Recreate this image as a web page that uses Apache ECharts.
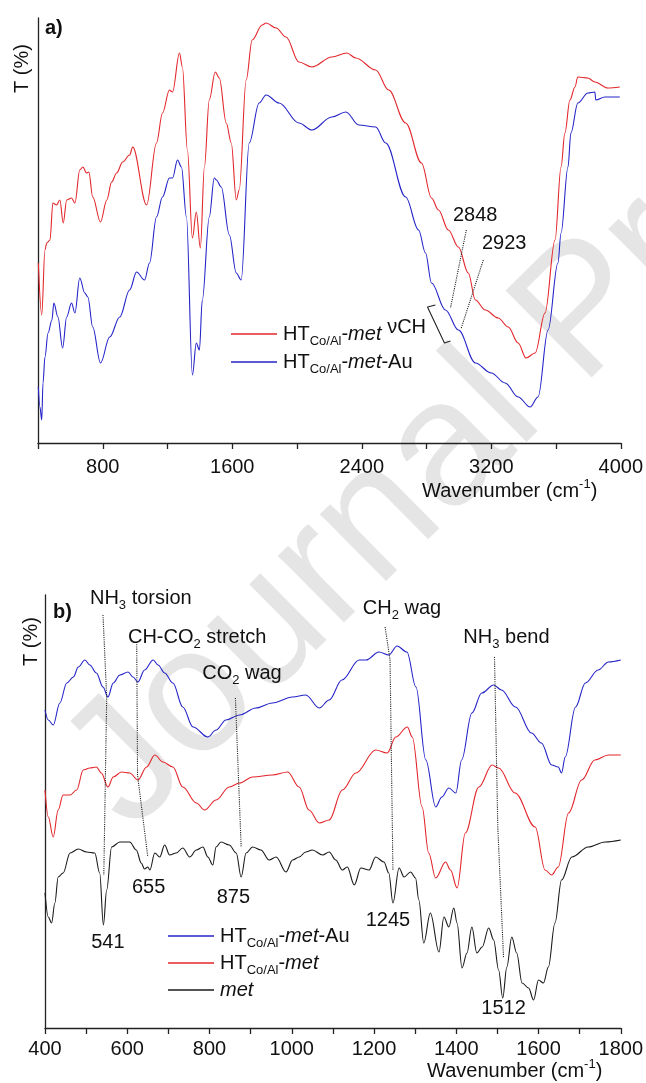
<!DOCTYPE html>
<html>
<head>
<meta charset="utf-8">
<script src="https://cdn.jsdelivr.net/npm/echarts@6/dist/echarts.min.js"></script>
<style>
html, body { margin: 0; padding: 0; background: #fff; }
#chart { width: 646px; height: 1083px; }
</style>
</head>
<body>
<div id="chart"></div>
<script>
// panel a) : wavenumber (cm-1), transmittance (arbitrary units read off the plot)
var htMetA = [[402,180],[423,128],[443,193],[454,200],[474,203],[492,240],[515,238],[535,243],[556,220],[577,243],
  [607,245],[628,240],[658,273],[677,276],[700,270],[714,271],[738,246],[786,221],[825,243],[855,261],[886,270],
  [923,281],[966,288],[985,296],[1071,238],[1132,300],[1169,330],[1212,353],[1231,351],[1274,390],[1292,376],
  [1323,293],[1354,205],[1378,231],[1403,195],[1428,276],[1458,343],[1495,371],[1520,365],[1563,320],[1594,300],
  [1625,243],[1643,253],[1686,363],[1723,403],[1785,418],[1809,420],[1871,415],[1932,406],[2012,381],[2092,376],
  [2215,386],[2308,390],[2363,385],[2486,373],[2566,353],[2671,320],[2769,280],[2831,245],[2874,233],[2935,213],
  [2997,196],[3058,170],[3102,143],[3163,133],[3243,125],[3305,116],[3366,100],[3415,85],[3471,90],[3532,130],
  [3594,203],[3631,276],[3655,310],[3686,343],[3717,356],[3735,366],[3797,365],[3840,361],[3920,355],[3994,356]];

var htMetAuA = [[402,56],[412,36],[423,23],[431,60],[443,86],[462,110],[486,123],[498,140],[523,126],[552,95],
  [577,126],[607,140],[628,130],[658,165],[689,150],[708,146],[738,116],[786,80],[843,106],[905,126],[966,153],
  [1009,171],[1058,163],[1089,180],[1132,226],[1169,246],[1212,265],[1231,265],[1262,283],[1286,276],[1317,226],
  [1354,68],[1378,100],[1397,93],[1415,143],[1458,226],[1489,265],[1502,263],[1532,256],[1582,208],[1625,170],
  [1655,163],[1705,300],[1766,340],[1809,348],[1889,340],[2012,320],[2092,313],[2215,326],[2302,331],[2382,318],
  [2486,316],[2548,300],[2671,246],[2751,213],[2794,190],[2831,160],[2917,133],[2997,113],[3102,80],[3200,70],
  [3286,60],[3366,46],[3440,36],[3489,46],[3551,113],[3612,180],[3631,210],[3674,276],[3692,310],[3735,340],
  [3797,350],[3840,351],[3846,343],[3902,346],[3994,346]];

// panel b)
var htMetAuB = [[400,318],[408,308],[420,303],[436,325],[453,345],[469,351],[481,361],[497,368],[509,363],[525,355],
  [541,341],[553,331],[566,345],[582,353],[602,356],[614,351],[626,346],[642,358],[663,368],[675,363],[691,355],
  [711,345],[735,321],[760,301],[796,291],[816,298],[840,308],[873,313],[913,320],[953,325],[1002,331],[1034,333],
  [1067,320],[1091,328],[1122,348],[1164,368],[1181,368],[1212,376],[1236,373],[1256,382],[1280,376],[1302,341],
  [1326,268],[1350,221],[1365,231],[1382,240],[1399,235],[1413,268],[1438,315],[1462,335],[1491,343],[1510,338],
  [1544,321],[1583,295],[1607,285],[1632,263],[1648,261],[1656,255],[1665,271],[1690,321],[1714,345],[1745,358],
  [1770,366],[1800,368]];

var htMetB = [[400,238],[408,211],[420,191],[432,218],[444,233],[461,233],[477,238],[493,258],[509,260],[525,261],
  [537,255],[553,241],[566,251],[586,256],[606,255],[626,248],[647,261],[667,273],[687,266],[711,261],[735,241],
  [768,225],[788,218],[816,228],[848,241],[873,245],[905,251],[953,253],[990,256],[1018,241],[1042,218],[1067,205],
  [1091,208],[1123,238],[1156,255],[1204,278],[1232,275],[1253,291],[1281,301],[1293,291],[1317,221],[1333,175],
  [1350,150],[1374,166],[1386,158],[1402,140],[1422,195],[1455,241],[1487,263],[1503,260],[1543,235],[1592,201],
  [1616,158],[1632,153],[1648,161],[1673,215],[1705,248],[1737,268],[1770,273],[1800,273]];

var metB = [[400,135],[408,111],[416,105],[424,125],[432,151],[444,155],[461,175],[481,179],[501,176],[521,175],
  [533,155],[542,103],[550,138],[562,181],[582,186],[606,186],[622,178],[634,165],[642,159],[650,161],[655,158],
  [667,175],[679,171],[691,183],[703,173],[719,175],[735,180],[752,171],[768,178],[784,181],[796,171],[808,163],
  [816,181],[828,186],[848,183],[865,175],[877,151],[889,175],[905,181],[925,178],[945,168],[962,171],[986,156],
  [1002,168],[1018,171],[1034,176],[1050,178],[1075,173],[1091,176],[1107,168],[1123,158],[1135,161],[1152,143],
  [1168,160],[1188,158],[1204,171],[1224,166],[1236,155],[1246,125],[1261,160],[1273,151],[1289,156],[1301,150],
  [1309,128],[1321,85],[1337,115],[1358,76],[1370,111],[1382,101],[1394,120],[1402,105],[1414,60],[1426,75],
  [1438,101],[1450,75],[1463,81],[1479,100],[1491,88],[1503,58],[1513,30],[1523,61],[1535,91],[1547,75],[1560,45],
  [1576,40],[1588,28],[1600,48],[1612,45],[1624,61],[1640,105],[1656,148],[1681,171],[1721,181],[1762,186],[1800,188]];

// peak labels [wavenumber, T, text]
var labelsA = [[3101,228,'2848'],[3280,200,'2923'],[2677,116,'νCH']];
var labelsB = [
  [633,430,'{n|NH}{s|3}{n| torsion}'],
  [770,391,'{n|CH-CO}{s|2}{n| stretch}'],
  [879,355,'{n|CO}{s|2}{n| wag}'],
  [1268,420,'{n|CH}{s|2}{n| wag}'],
  [1522,391,'{n|NH}{s|3}{n| bend}'],
  [553,86,'541'],[652,141,'655'],[858,131,'875'],[1234,108,'1245'],[1515,20,'1512']
];

// dotted guides from labels to peaks
var guidesA = [
  [[3046,213],[2948,135]],
  [[3151,183],[3015,115]]
];
var bracketA = [[2855,138],[2806,136],[2911,100],[2948,102]];
var guidesB = [
  [[541,413],[550,331],[543,153]],
  [[623,386],[625,253],[650,171]],
  [[863,330],[877,181]],
  [[1227,401],[1239,368],[1246,158]],
  [[1493,371],[1501,201],[1515,70]]
];

var legendNames = {
  'HT-met': '{n|HT}{s|Co/Al}{n|-}{i|met}',
  'HT-met-Au': '{n|HT}{s|Co/Al}{n|-}{i|met}{n|-Au}',
  'met': '{i|met}'
};

var RED = '#e3262b';
var BLUE = '#2424c8';
var BLACK = '#1a1a1a';
var FONT = 'Liberation Sans, Arial, sans-serif';

var rich = {
  n: { fontSize: 20, lineHeight: 28, color: '#111', fontFamily: FONT },
  i: { fontSize: 20, lineHeight: 28, color: '#111', fontStyle: 'italic', fontFamily: FONT },
  s: { fontSize: 13, lineHeight: 13, color: '#111', verticalAlign: 'bottom', fontFamily: FONT }
};

function spectrum(name, data, color, idx) {
  return {
    name: name,
    type: 'line',
    xAxisIndex: idx,
    yAxisIndex: idx,
    data: data,
    symbol: 'none',
    smooth: 0.35,
    smoothMonotone: 'x',
    color: color,
    lineStyle: { color: color, width: 1.1 },
    itemStyle: { color: color },
    silent: true,
    z: 3
  };
}

function guide(points, idx, type) {
  return {
    type: 'line',
    xAxisIndex: idx,
    yAxisIndex: idx,
    data: points,
    symbol: 'none',
    silent: true,
    lineStyle: { color: '#222', width: 1.1, type: type || 'dotted' },
    z: 4
  };
}

function labels(list, idx) {
  return {
    type: 'scatter',
    xAxisIndex: idx,
    yAxisIndex: idx,
    symbolSize: 0,
    itemStyle: { color: '#111', opacity: 1 },
    silent: true,
    clip: false,
    z: 5,
    data: list.map(function (d) { return { value: [d[0], d[1]], name: d[2] }; }),
    label: {
      show: true,
      position: [0, 0],
      align: 'center',
      verticalAlign: 'middle',
      formatter: function (p) { return p.name; },
      fontSize: 20,
      color: '#111',
      textBorderWidth: 0,
      fontFamily: FONT,
      rich: rich
    }
  };
}

function xAxis(idx, min, max, step, labelStep, skipFirst, margin) {
  return {
    type: 'value',
    gridIndex: idx,
    min: min,
    max: max,
    interval: step,
    axisLine: { lineStyle: { color: '#222', width: 1.3 } },
    axisTick: { show: true, length: 6, lineStyle: { color: '#222', width: 1.3 } },
    splitLine: { show: false },
    axisLabel: {
      fontSize: 20,
      color: '#111',
      fontFamily: FONT,
      margin: margin,
      showMinLabel: true,
      formatter: function (v) {
        if (v % labelStep !== 0) return '';
        if (skipFirst && v === min) return '';
        return String(v);
      }
    }
  };
}

function yAxis(idx, max) {
  return {
    type: 'value',
    gridIndex: idx,
    min: 0,
    max: max,
    axisLine: { show: true, lineStyle: { color: '#222', width: 1.3 } },
    axisTick: { show: false },
    axisLabel: { show: false },
    splitLine: { show: false }
  };
}

var option = {
  backgroundColor: '#fff',
  animation: false,
  textStyle: { fontFamily: FONT },
  grid: [
    { left: 38, top: 18, right: 24, bottom: 640 },
    { left: 45, top: 595, right: 23.5, bottom: 55 }
  ],
  xAxis: [
    xAxis(0, 400, 4000, 400, 800, true, 14),
    xAxis(1, 400, 1800, 100, 200, false, 11)
  ],
  yAxis: [yAxis(0, 425), yAxis(1, 433)],
  legend: [{
    data: ['HT-met', 'HT-met-Au'],
    left: 226,
    top: 319,
    orient: 'vertical',
    itemGap: 4,
    itemWidth: 46,
    itemHeight: 1.5,
    icon: 'rect',
    selectedMode: false,
    formatter: function (n) { return legendNames[n]; },
    textStyle: { rich: rich, padding: [0, 0, 0, 1] }
  }, {
    data: ['HT-met-Au', 'HT-met', 'met'],
    left: 163,
    top: 921,
    orient: 'vertical',
    itemGap: 3,
    itemWidth: 46,
    itemHeight: 1.5,
    icon: 'rect',
    selectedMode: false,
    formatter: function (n) { return legendNames[n]; },
    textStyle: { rich: rich, padding: [0, 0, 0, 1] }
  }],
  graphic: [
    {
      type: 'text', x: 34, y: 735, rotation: 0.78, z: -10, silent: true,
      style: { text: 'Journal Pre-proof', fontSize: 178, fontFamily: FONT, fill: 'rgba(0,0,0,0.1)' }
    },
    { type: 'text', x: 45, y: 18, style: { text: 'a)', fontSize: 20, fontWeight: 'bold', fontFamily: FONT, fill: '#111' } },
    { type: 'text', x: 53, y: 602, style: { text: 'b)', fontSize: 20, fontWeight: 'bold', fontFamily: FONT, fill: '#111' } },
    { type: 'text', x: 12, y: 93, rotation: Math.PI / 2, style: { text: 'T (%)', fontSize: 20, fontFamily: FONT, fill: '#111' } },
    { type: 'text', x: 21, y: 666, rotation: Math.PI / 2, style: { text: 'T (%)', fontSize: 20, fontFamily: FONT, fill: '#111' } },
    {
      type: 'text', x: 422, y: 478,
      style: { text: '{n|Wavenumber (cm}{p|-1}{n|)}', fontFamily: FONT, fill: '#111',
        rich: { n: { fontSize: 20, lineHeight: 26, fontFamily: FONT }, p: { fontSize: 13, lineHeight: 13, verticalAlign: 'top', fontFamily: FONT } } }
    },
    {
      type: 'text', x: 427, y: 1058,
      style: { text: '{n|Wavenumber (cm}{p|-1}{n|)}', fontFamily: FONT, fill: '#111',
        rich: { n: { fontSize: 20, lineHeight: 26, fontFamily: FONT }, p: { fontSize: 13, lineHeight: 13, verticalAlign: 'top', fontFamily: FONT } } }
    }
  ],
  series: [
    spectrum('HT-met', htMetA, RED, 0),
    spectrum('HT-met-Au', htMetAuA, BLUE, 0),
    spectrum('HT-met-Au', htMetAuB, BLUE, 1),
    spectrum('HT-met', htMetB, RED, 1),
    spectrum('met', metB, BLACK, 1),
    labels(labelsA, 0),
    labels(labelsB, 1),
    guide(bracketA, 0, 'solid')
  ].concat(guidesA.map(function (g) { return guide(g, 0); }))
   .concat(guidesB.map(function (g) { return guide(g, 1); }))
};

var chart = echarts.init(document.getElementById('chart'));
chart.setOption(option);
</script>
</body>
</html>
